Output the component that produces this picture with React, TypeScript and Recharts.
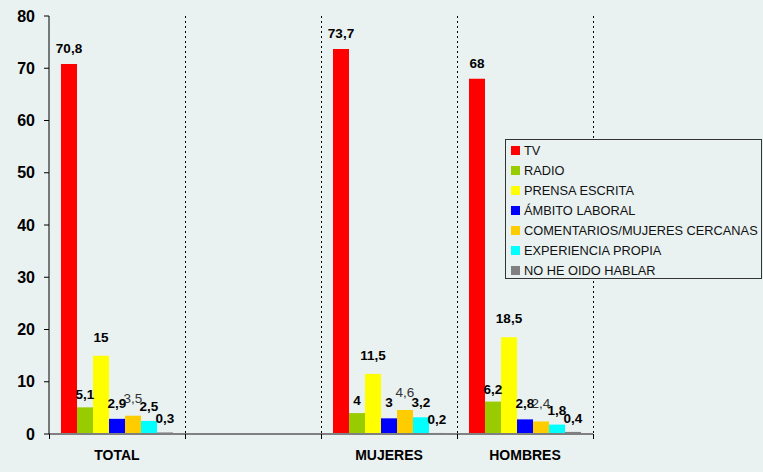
import React from "react";
import { BarChart, Bar, XAxis, YAxis, CartesianGrid, LabelList } from "recharts";

const categories = ["TOTAL", "", "MUJERES", "HOMBRES"];
const tv = [70.8, null, 73.7, 68];
const radio = [5.1, null, 4, 6.2];
const prensa = [15, null, 11.5, 18.5];
const ambito = [2.9, null, 3, 2.8];
const comentarios = [3.5, null, 4.6, 2.4];
const experiencia = [2.5, null, 3.2, 1.8];
const noHeOido = [0.3, null, 0.2, 0.4];
const yTicks = [0, 10, 20, 30, 40, 50, 60, 70, 80];

const series = [
  { key: "tv", name: "TV", values: tv, color: "#ff0000", bold: true, offset: 11 },
  { key: "radio", name: "RADIO", values: radio, color: "#99cc00", bold: true, offset: 8 },
  { key: "prensa", name: "PRENSA ESCRITA", values: prensa, color: "#ffff00", bold: true, offset: 14 },
  { key: "ambito", name: "ÁMBITO LABORAL", values: ambito, color: "#0000ff", bold: true, offset: 11 },
  { key: "comentarios", name: "COMENTARIOS/MUJERES CERCANAS", values: comentarios, color: "#ffcc00", bold: false, offset: 13 },
  { key: "experiencia", name: "EXPERIENCIA PROPIA", values: experiencia, color: "#00ffff", bold: true, offset: 10 },
  { key: "noHeOido", name: "NO HE OIDO HABLAR", values: noHeOido, color: "#808080", bold: true, offset: 9 },
];

const data = categories.map((name, i) => {
  const row: any = { name };
  series.forEach((s) => (row[s.key] = s.values[i]));
  return row;
});

const FONT = "Arial, 'Liberation Sans', sans-serif";
const BG = "#e9f1f1";

function fmt(v: number) {
  return String(v).replace(".", ",");
}

function makeLabel(bold: boolean, offset: number) {
  return (props: any) => {
    const { x, y, width, value } = props;
    if (value === null || value === undefined) return null;
    return (
      <text
        x={x + width / 2}
        y={y - offset}
        textAnchor="middle"
        fontFamily={FONT}
        fontSize={13.5}
        fontWeight={bold ? "bold" : "normal"}
        fill={bold ? "#000" : "#333"}
      >
        {fmt(value)}
      </text>
    );
  };
}

function CatTick(props: any) {
  const { x, y, payload, index, visibleTicksCount } = props;
  const half = payload.offset || 68;
  const last = index === (visibleTicksCount ?? categories.length) - 1;
  return (
    <g>
      <line x1={x - half + 0.5} x2={x - half + 0.5} y1={y} y2={y + 5} stroke="#000" />
      {last && <line x1={x + half + 0.5} x2={x + half + 0.5} y1={y} y2={y + 5} stroke="#000" />}
      <text x={x} y={y + 26} textAnchor="middle" fontFamily={FONT} fontSize={14} fontWeight="bold" fill="#000">
        {payload.value}
      </text>
    </g>
  );
}

function LegendBox() {
  return (
    <div
      style={{
        position: "absolute",
        left: 505,
        top: 139,
        width: 257,
        height: 140,
        background: BG,
        border: "1px solid #333",
        boxSizing: "border-box",
        fontFamily: FONT,
        fontSize: 12.8,
        color: "#111",
      }}
    >
      {series.map((s) => (
        <div key={s.key} style={{ display: "flex", alignItems: "center", height: 20, whiteSpace: "nowrap" }}>
          <span style={{ display: "inline-block", width: 9, height: 9, background: s.color, marginLeft: 5, marginRight: 4 }} />
          <span>{s.name}</span>
        </div>
      ))}
    </div>
  );
}

export default function App() {
  return (
    <div style={{ position: "absolute", left: 0, top: 0, width: 763, height: 472, background: BG }}>
      <BarChart
        width={763}
        height={472}
        data={data}
        margin={{ top: 16, right: 170, bottom: 0, left: 0 }}
        barCategoryGap={12}
        barGap={0}
      >
        <CartesianGrid
          horizontal={false}
          stroke="#000"
          strokeWidth={1}
          strokeDasharray="2 3"
          verticalCoordinatesGenerator={({ offset }: any) =>
            [1, 2, 3, 4].map((k) => offset.left + (offset.width * k) / 4 + 0.5)
          }
        />
        <XAxis
          dataKey="name"
          height={38}
          tickLine={false}
          tickSize={0}
          tickMargin={0}
          axisLine={{ stroke: "#808080", strokeWidth: 2 }}
          tick={<CatTick />}
          interval={0}
        />
        <YAxis
          width={49}
          domain={[0, 80]}
          ticks={yTicks}
          axisLine={{ stroke: "#000" }}
          tickLine={{ stroke: "#000" }}
          tickSize={5}
          tickMargin={9}
          tick={{ fontFamily: FONT, fontSize: 16, fontWeight: "bold", fill: "#000" }}
        />
        {series.map((s) => (
          <Bar key={s.key} dataKey={s.key} name={s.name} fill={s.color} isAnimationActive={false}>
            <LabelList dataKey={s.key} content={makeLabel(s.bold, s.offset)} />
          </Bar>
        ))}
      </BarChart>
      <LegendBox />
    </div>
  );
}
